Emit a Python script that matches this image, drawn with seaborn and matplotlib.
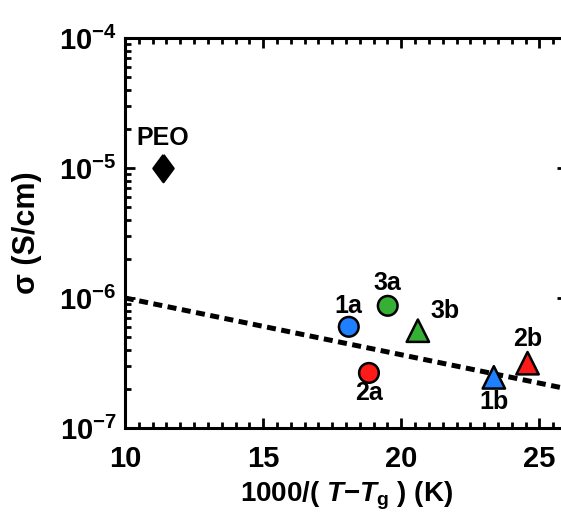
import matplotlib
matplotlib.use("Agg")
import matplotlib.pyplot as plt
import matplotlib.ticker as mticker
import numpy as np
import pandas as pd
import seaborn as sns

# Conductivity of the polymer electrolytes vs. reduced inverse temperature
samples = ["PEO", "1a", "2a", "3a", "1b", "2b", "3b"]
inv_t = [11.37, 18.10, 18.83, 19.51, 23.35, 24.57, 20.60]
sigma = [1.0e-5, 6.0e-7, 2.65e-7, 8.7e-7, 2.45e-7, 3.15e-7, 5.6e-7]
kind = ["ref", "circle", "circle", "circle", "triangle", "triangle", "triangle"]
colors = ["#000000", "#1f80ff", "#ff1a1a", "#35b035", "#1f80ff", "#ff1a1a", "#35b035"]

# Fitted trend line (end points)
fit_x = [10.0, 26.0]
fit_y = [1.0e-6, 2.0e-7]

# label offsets in pixels relative to each marker
label_dx = [0, 0, 0, 0, 0, 0, 27]
label_dy = [30, 21, -20, 23, -25, 24, 20]

df = pd.DataFrame({"x": inv_t, "sigma": sigma, "sample": samples, "kind": kind})

sns.set_style("white")
plt.rcParams["font.family"] = ["Liberation Sans", "DejaVu Sans"]
plt.rcParams["font.weight"] = "bold"
plt.rcParams["text.color"] = "black"
plt.rcParams["axes.labelcolor"] = "black"
plt.rcParams["xtick.color"] = "black"
plt.rcParams["ytick.color"] = "black"
plt.rcParams["mathtext.fontset"] = "custom"
plt.rcParams["mathtext.rm"] = "Liberation Sans:bold"
plt.rcParams["mathtext.bf"] = "Liberation Sans:bold"
plt.rcParams["mathtext.it"] = "Liberation Sans:italic:bold"
plt.rcParams["mathtext.default"] = "rm"

fig = plt.figure(figsize=(5.61, 5.2), dpi=100)
ax = fig.add_axes([0.2228, 0.177, 0.788, 0.75])

sns.lineplot(x=fit_x, y=fit_y, ax=ax, color="black", linewidth=3.6,
             dashes=False, zorder=2)
ax.lines[0].set_dashes((1.8, 1.1))

diamond = [(0, 1), (0.74, 0), (0, -1), (-0.74, 0), (0, 1)]
marker_map = {"ref": diamond, "circle": "o", "triangle": "^"}
size_map = {"ref": 380, "circle": 200, "triangle": 260}
for k in ["ref", "circle", "triangle"]:
    sub = df[df["kind"] == k]
    sns.scatterplot(data=sub, x="x", y="sigma", hue="sample",
                    palette=dict(zip(samples, colors)), marker=marker_map[k],
                    s=size_map[k], edgecolor="black", linewidth=1.8,
                    legend=False, ax=ax, zorder=3)

for name, x, y, dx, dy in zip(samples, inv_t, sigma, label_dx, label_dy):
    ax.annotate(name, (x, y), xytext=(dx, dy), textcoords="offset pixels",
                ha="center", va="center", fontsize=18, fontweight="bold",
                color="black")

ax.set_yscale("log")
ax.set_xlim(10, 26)
ax.set_ylim(1e-7, 1e-4)

ax.set_xticks([10, 15, 20, 25])
ax.xaxis.set_minor_locator(mticker.MultipleLocator(0.5))
ax.set_yticks([1e-7, 1e-6, 1e-5, 1e-4])
ax.set_yticklabels([r"$10^{-7}$", r"$10^{-6}$", r"$10^{-5}$", r"$10^{-4}$"])
ax.yaxis.set_minor_locator(mticker.LogLocator(base=10, subs=np.arange(2, 10),
                                              numticks=50))
ax.yaxis.set_minor_formatter(mticker.NullFormatter())

ax.tick_params(which="both", direction="in", top=True, right=True,
               bottom=True, left=True, width=2, color="black")
ax.tick_params(which="major", length=7)
ax.tick_params(which="minor", length=4)
ax.tick_params(axis="x", which="major", labelsize=21, pad=12)
ax.tick_params(axis="y", which="major", labelsize=21, pad=6)
for lab in ax.get_xticklabels() + ax.get_yticklabels():
    lab.set_fontweight("bold")

for sp in ax.spines.values():
    sp.set_visible(True)
    sp.set_linewidth(2.2)
    sp.set_color("black")

ax.set_xlabel(r"1000/( $\mathit{T}$$-$$\mathit{T}_{\mathrm{g}}$ ) (K)",
              fontsize=20, fontweight="bold", labelpad=5)
ax.set_ylabel("σ (S/cm)", fontsize=22, fontweight="bold", labelpad=12)

fig.savefig("out.png", dpi=100)
